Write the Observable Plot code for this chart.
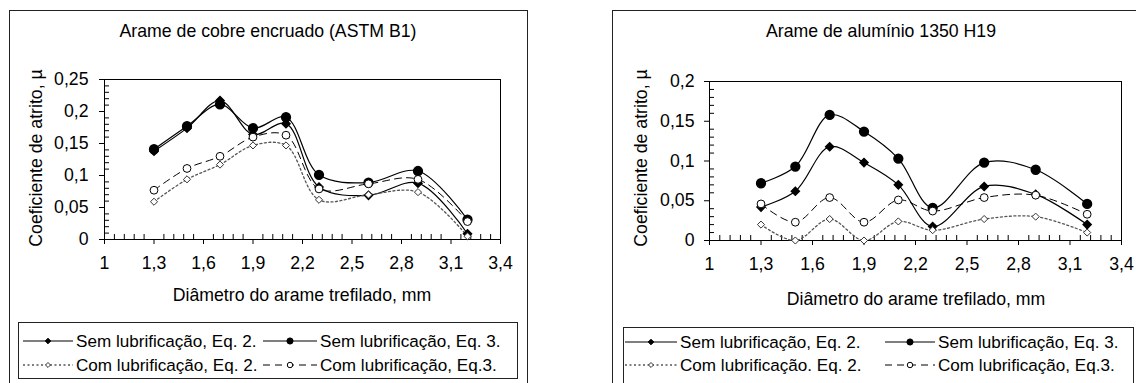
<!DOCTYPE html>
<html><head><meta charset="utf-8">
<script src="https://cdn.jsdelivr.net/npm/d3@7"></script>
<script src="https://cdn.jsdelivr.net/npm/@observablehq/plot@0.6"></script>
<style>
body{margin:0;background:#fff;font-family:"Liberation Sans",Arial,sans-serif;}
#wrap{position:relative;width:1136px;height:383px;overflow:hidden;background:#fff;}
.frame{position:absolute;border:1px solid #222;box-sizing:border-box;}
.t{position:absolute;font-size:17.7px;white-space:nowrap;color:#000;line-height:1;}
</style></head><body><div id="wrap"></div>
<script>
// ---- data ----
const diametros = [1.3, 1.5, 1.7, 1.9, 2.1, 2.3, 2.6, 2.9, 3.2];
const xTicks = [1, 1.3, 1.6, 1.9, 2.2, 2.5, 2.8, 3.1, 3.4];
const yTicksCobre = [0, 0.05, 0.1, 0.15, 0.2, 0.25];
const yTicksAl = [0, 0.05, 0.1, 0.15, 0.2];

const cobreSemEq2 = [0.138, 0.174, 0.217, 0.164, 0.181, 0.082, 0.069, 0.088, 0.009];
const cobreSemEq3 = [0.141, 0.177, 0.211, 0.174, 0.191, 0.101, 0.089, 0.107, 0.031];
const cobreComEq2 = [0.059, 0.094, 0.117, 0.147, 0.147, 0.062, 0.070, 0.074, 0.005];
const cobreComEq3 = [0.077, 0.111, 0.130, 0.160, 0.163, 0.079, 0.087, 0.094, 0.028];

const alSemEq2 = [0.042, 0.062, 0.118, 0.098, 0.070, 0.0175, 0.068, 0.058, 0.020];
const alSemEq3 = [0.072, 0.093, 0.158, 0.137, 0.103, 0.041, 0.098, 0.089, 0.046];
const alComEq2 = [0.020, 0.000, 0.027, 0.000, 0.024, 0.013, 0.027, 0.030, 0.010];
const alComEq3 = [0.046, 0.023, 0.054, 0.023, 0.051, 0.037, 0.054, 0.057, 0.033];

const titles = ["Arame de cobre encruado (ASTM B1)", "Arame de alumínio 1350 H19"];
const yLabel = "Coeficiente de atrito, µ";
const xLabel = "Diâmetro do arame trefilado, mm";
const legendCobre = ["Sem lubrificação, Eq. 2.", "Sem lubrificação, Eq. 3.", "Com lubrificação, Eq. 2.", "Com lubrificação, Eq.3."];
const legendAl = ["Sem lubrificação, Eq. 2.", "Sem lubrificação, Eq. 3.", "Com lubrificação. Eq. 2.", "Com lubrificação, Eq.3."];

// ---- styles ----
const FONT = '"Liberation Sans", Arial, sans-serif';
const FS = "17.7px";
const FS_LEG = "17.1px";
const styles = [
  {line: {stroke: "#000", strokeWidth: 1.2}, dot: {symbol: "diamond2", r: 3.6, fill: "#000", stroke: "#000"}},
  {line: {stroke: "#000", strokeWidth: 1.2}, dot: {symbol: "circle", r: 4.4, fill: "#000", stroke: "#000"}},
  {line: {stroke: "#555", strokeWidth: 1.3, strokeDasharray: "2,2.5"}, dot: {symbol: "diamond2", r: 3.2, fill: "#fff", stroke: "#333", strokeWidth: 1}},
  {line: {stroke: "#000", strokeWidth: 1, strokeDasharray: "7,5"}, dot: {symbol: "circle", r: 3.9, fill: "#fff", stroke: "#000", strokeWidth: 1}}
];
const fmt = d => String(d).replace(".", ",");
const wrap = document.getElementById("wrap");

function addText(txt, x, y, rotate) {
  const el = document.createElement("div");
  el.className = "t";
  el.textContent = txt;
  el.style.left = x + "px";
  el.style.top = y + "px";
  el.style.transform = "translate(-50%,-50%)" + (rotate ? " rotate(-90deg)" : "");
  wrap.appendChild(el);
}
function addBox(l, t, w, h) {
  const el = document.createElement("div");
  el.className = "frame";
  Object.assign(el.style, {left: l + "px", top: t + "px", width: w + "px", height: h + "px"});
  wrap.appendChild(el);
  return el;
}

function panel(cfg) {
  const seriesList = cfg.series.map(vals => diametros.map((d, i) => ({d, v: vals[i]})));
  const minorX = d3.range(0, 41).map(i => +(1 + i * 0.06).toFixed(2)).filter(v => !xTicks.some(t => Math.abs(t - v) < 1e-6));
  const minorY = d3.range(0, Math.round(cfg.yMax / 0.01) + 1).map(i => +(i * 0.01).toFixed(2)).filter(v => !cfg.yTicks.some(t => Math.abs(t - v) < 1e-6));
  const plotW = cfg.width - cfg.ml - cfg.mr;
  const plotH = cfg.height - cfg.mt - cfg.mb;
  const marks = [
    Plot.frame({stroke: "#000"}),
    Plot.ruleX(minorX, {x: d => d, insetTop: plotH - 5, stroke: "#000"}),
    Plot.ruleY(minorY, {y: d => d, insetRight: plotW - 5, stroke: "#000"}),
    Plot.axisX({ticks: xTicks, tickSize: 5, tickPadding: 12, tickFormat: fmt, label: null}),
    Plot.axisY({ticks: cfg.yTicks, tickSize: 5, tickPadding: cfg.yPad, tickFormat: fmt, label: null})
  ];
  seriesList.forEach((data, k) => {
    marks.push(Plot.line(data, {x: "d", y: "v", curve: "catmull-rom", ...styles[k].line}));
  });
  seriesList.forEach((data, k) => {
    marks.push(Plot.dot(data, {x: "d", y: "v", ...styles[k].dot}));
  });
  const svg = Plot.plot({
    width: cfg.width, height: cfg.height,
    marginLeft: cfg.ml, marginRight: cfg.mr, marginTop: cfg.mt, marginBottom: cfg.mb,
    x: {domain: [1, 3.4]},
    y: {domain: [0, cfg.yMax]},
    style: {fontFamily: FONT, fontSize: FS, color: "#000", background: "transparent", overflow: "visible"},
    marks
  });
  svg.style.position = "absolute";
  svg.style.left = cfg.left + "px";
  svg.style.top = "0px";
  wrap.appendChild(svg);
}

function legend(cfg, labels) {
  const box = addBox(cfg.l, cfg.t, cfg.w, cfg.h);
  const svg = d3.create("svg").attr("width", cfg.w).attr("height", cfg.h)
    .style("position", "absolute").style("left", "-1px").style("top", "-1px")
    .style("font-family", FONT).style("font-size", FS_LEG);
  const pos = [
    {x0: cfg.c1[0], x1: cfg.c1[1], y: cfg.r1}, {x0: cfg.c2[0], x1: cfg.c2[1], y: cfg.r1},
    {x0: cfg.c1[0], x1: cfg.c1[1], y: cfg.r2}, {x0: cfg.c2[0], x1: cfg.c2[1], y: cfg.r2}
  ];
  const sym = {circle: d3.symbolCircle, diamond2: d3.symbolDiamond2};
  pos.forEach((p, k) => {
    const st = styles[k];
    svg.append("line").attr("x1", p.x0).attr("x2", p.x1).attr("y1", p.y).attr("y2", p.y)
      .attr("stroke", st.line.stroke).attr("stroke-width", st.line.strokeWidth)
      .attr("stroke-dasharray", st.line.strokeDasharray || null);
    const r = st.dot.r * 0.7;
    svg.append("path").attr("d", d3.symbol(sym[st.dot.symbol], Math.PI * r * r)())
      .attr("transform", `translate(${(p.x0 + p.x1) / 2},${p.y})`)
      .attr("fill", st.dot.fill).attr("stroke", st.dot.stroke).attr("stroke-width", 1);
    svg.append("text").attr("x", p.x1 + 3).attr("y", p.y).attr("dy", "0.35em").text(labels[k]);
  });
  box.appendChild(svg.node());
}

// ---- left panel ----
addBox(9, 10, 519, 420);
panel({left: 0, width: 536, height: 310, ml: 104, mr: 36, mt: 79, mb: 71,
  yMax: 0.25, yTicks: yTicksCobre, yPad: 11,
  series: [cobreSemEq2, cobreSemEq3, cobreComEq2, cobreComEq3]});
addText(titles[0], 268, 32);
addText(yLabel, 37, 158, true);
addText(xLabel, 302, 296);
legend({l: 18, t: 322, w: 500, h: 57, c1: [5, 55], c2: [245, 299], r1: 19, r2: 43}, legendCobre);

// ---- right panel ----
addBox(612, 10, 600, 420);
panel({left: 600, width: 536, height: 310, ml: 109, mr: 15, mt: 81, mb: 70,
  yMax: 0.2, yTicks: yTicksAl, yPad: 10,
  series: [alSemEq2, alSemEq3, alComEq2, alComEq3]});
addText(titles[1], 881, 32);
addText(yLabel, 642, 158, true);
addText(xLabel, 916, 300);
legend({l: 623, t: 327, w: 511, h: 70, c1: [2, 54], c2: [262, 312], r1: 15, r2: 38}, legendAl);
</script>
</body></html>
